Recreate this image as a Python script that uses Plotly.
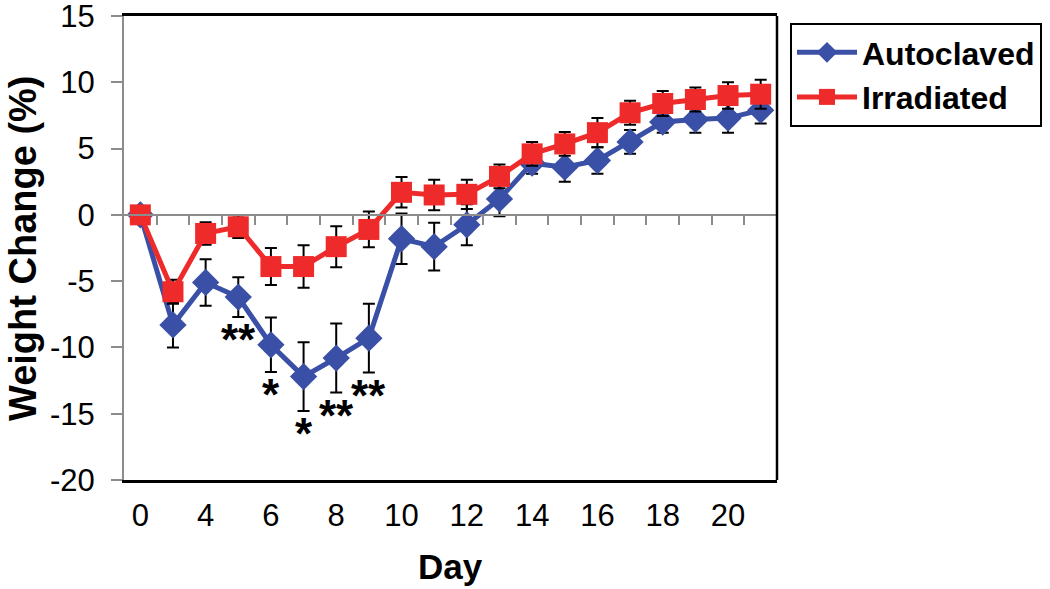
import plotly.graph_objects as go

# ---- data ----
days = ["0", "2", "4", "5", "6", "7", "8", "9", "10", "11", "12", "13",
        "14", "15", "16", "17", "18", "19", "20", "21"]
shown_day_labels = ["0", "4", "6", "8", "10", "12", "14", "16", "18", "20"]

autoclaved = [0, -8.3, -5.1, -6.2, -9.8, -12.2, -10.8, -9.3, -1.8, -2.4,
              -0.75, 1.2, 3.9, 3.6, 4.1, 5.5, 7.0, 7.2, 7.3, 7.9]
autoclaved_err = [0, 1.7, 1.75, 1.5, 2.05, 2.6, 2.6, 2.6, 1.9, 1.8,
                  1.55, 1.3, 0.8, 1.1, 1.0, 0.9, 0.8, 1.0, 1.1, 1.0]

irradiated = [0, -5.8, -1.4, -0.9, -3.9, -3.9, -2.4, -1.1, 1.7, 1.5,
              1.55, 2.9, 4.6, 5.35, 6.2, 7.7, 8.4, 8.7, 9.0, 9.1]
irradiated_err = [0, 0.9, 0.85, 0.85, 1.4, 1.6, 1.55, 1.35, 1.15, 1.15,
                  1.1, 0.9, 0.9, 0.9, 1.1, 0.9, 0.95, 0.9, 1.0, 1.1]

significance = ["", "", "", "**", "*", "*", "**", "**", "", "",
                "", "", "", "", "", "", "", "", "", ""]

y_ticks = [-20, -15, -10, -5, 0, 5, 10, 15]

BLUE = "#3A4FA6"
RED = "#EE2A2A"
GRAY = "#8C8C8C"
FONT = "Liberation Sans, Arial, sans-serif"

W, H = 1050, 589
L, R, T, B = 124, 1050 - 777, 16, 589 - 480
plot_w = W - L - R
plot_h = H - T - B

pos = list(range(len(days)))
label_pos = [days.index(d) for d in shown_day_labels]
boundaries = [p + 0.5 for p in pos]
x_range = [-0.5, len(days) - 0.5]

fig = go.Figure()

# invisible trace carrying the zero-line axis (x2)
fig.add_trace(go.Scatter(x=pos, y=autoclaved, xaxis="x2", mode="markers",
                         marker=dict(opacity=0), showlegend=False, hoverinfo="skip"))

fig.add_trace(go.Scatter(
    x=pos, y=autoclaved, name="Autoclaved", mode="lines+markers",
    line=dict(color=BLUE, width=5),
    marker=dict(symbol="diamond", size=21, color=BLUE),
    error_y=dict(type="data", array=autoclaved_err, color="black", thickness=2, width=6),
))
fig.add_trace(go.Scatter(
    x=pos, y=irradiated, name="Irradiated", mode="lines+markers",
    line=dict(color=RED, width=5),
    marker=dict(symbol="square", size=21, color=RED),
    error_y=dict(type="data", array=irradiated_err, color="black", thickness=2, width=6),
))

for p, v, e, s in zip(pos, autoclaved, autoclaved_err, significance):
    if s:
        fig.add_annotation(x=p, y=v - e, text=s, showarrow=False, yanchor="top",
                           yshift=4,
                           font=dict(family=FONT, size=44, color="black", weight="bold"))

# axis titles
fig.add_annotation(xref="paper", yref="paper", x=(23 - L) / plot_w, y=(480 - 248) / plot_h,
                   text="Weight Change (%)", textangle=-90, showarrow=False,
                   xanchor="center", yanchor="middle",
                   font=dict(family=FONT, size=38, weight="bold", color="black"))
fig.add_annotation(xref="paper", yref="paper", x=0.5, y=(480 - 566) / plot_h,
                   text="Day", showarrow=False, xanchor="center", yanchor="middle",
                   font=dict(family=FONT, size=35, weight="bold", color="black"))

fig.update_layout(
    width=W, height=H,
    margin=dict(l=L, r=R, t=T, b=B, autoexpand=False),
    paper_bgcolor="white", plot_bgcolor="white",
    font=dict(family=FONT, color="black"),
    xaxis=dict(range=x_range, tickmode="array", tickvals=label_pos,
               ticktext=shown_day_labels, ticks="", showgrid=False, zeroline=False,
               showline=True, linecolor="black", linewidth=2.5, mirror=True,
               tickfont=dict(size=31), ticklabelstandoff=6, automargin=False,
               ticklabeloverflow="allow"),
    xaxis2=dict(range=x_range, overlaying="x", anchor="free", position=20 / 35,
                side="bottom", showline=True, linecolor=GRAY, linewidth=2,
                tickmode="array", tickvals=boundaries,
                ticks="outside", ticklen=9, tickwidth=2, tickcolor=GRAY,
                showticklabels=False, showgrid=False, zeroline=False, automargin=False),
    yaxis=dict(range=[-20, 15], tickmode="array", tickvals=y_ticks,
               ticktext=[str(t) for t in y_ticks],
               showgrid=False, zeroline=False,
               showline=True, linecolor=GRAY, linewidth=2,
               ticks="outside", ticklen=11, tickwidth=2, tickcolor=GRAY,
               tickfont=dict(size=31), ticklabelstandoff=10, automargin=False,
               ticklabeloverflow="allow"),
    legend=dict(x=(790 - L) / plot_w, y=(480 - 23) / plot_h, xanchor="left", yanchor="top",
                bordercolor="black", borderwidth=2, bgcolor="white",
                font=dict(size=32, weight="bold"), itemwidth=60, tracegroupgap=0),
    showlegend=True,
)

fig.add_shape(type="line", xref="paper", yref="paper", x0=1, x1=1, y0=0, y1=1,
              line=dict(color="black", width=2.5))

fig.write_html("out.html", config={"displayModeBar": False},
               post_script="document.body.style.margin='0';")
